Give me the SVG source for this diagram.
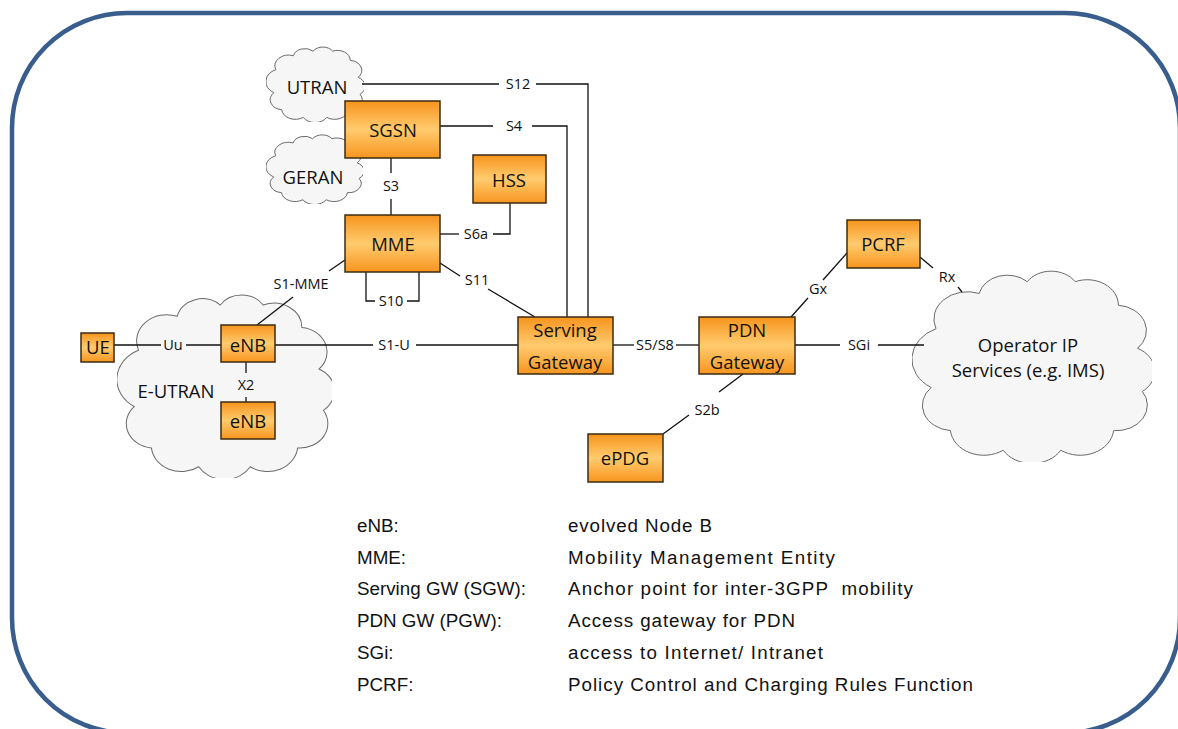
<svg xmlns="http://www.w3.org/2000/svg" xmlns:xlink="http://www.w3.org/1999/xlink" width="1178" height="729" viewBox="0 0 1178 729">
<style>
.box{fill:url(#og);stroke:#3d2b12;stroke-width:1.5}
.cl{fill:#f6f6f6;stroke:#6a6a6a;stroke-width:1}
.nt{font-family:"Open Sans","Noto Sans",sans-serif;font-size:18.5px;fill:#111;text-anchor:middle}
.lb{font-family:"Open Sans","Noto Sans",sans-serif;font-size:14.5px;fill:#111;text-anchor:middle}
.cn{fill:none;stroke:#111;stroke-width:1.3}
.lg{font-family:"Liberation Sans",Arial,sans-serif;font-size:18.8px;fill:#111}
</style>
<defs>
<linearGradient id="og" x1="0" y1="0" x2="0" y2="1">
<stop offset="0" stop-color="#f7941d"/>
<stop offset="0.5" stop-color="#ffcb6e"/>
<stop offset="1" stop-color="#f7951f"/>
</linearGradient>
<symbol id="cloud" viewBox="0 0 100 100" preserveAspectRatio="none">
<path class="cl" vector-effect="non-scaling-stroke" d="M8,62 A17,17 0 0 1 10,32 A14,14 0 0 1 28,14 A12,12 0 0 1 48,8 A12,12 0 0 1 68,8 A13,13 0 0 1 86,20 A13,13 0 0 1 94,42 A13,13 0 0 1 96,64 A13,13 0 0 1 84,84 A14,14 0 0 1 62,94 A14,14 0 0 1 38,94 A14,14 0 0 1 16,84 A13,13 0 0 1 8,62 Z"/>
</symbol>
</defs>
<rect x="0" y="0" width="1178" height="729" fill="#fff"/>
<rect id="frame" x="12" y="13" width="1168" height="720" rx="115" ry="115" fill="none" stroke="#395d8d" stroke-width="4.5"/>

<g id="utran"><use xlink:href="#cloud" href="#cloud" x="266" y="45" width="98" height="77"/><text class="nt" x="317" y="94">UTRAN</text></g>
<g id="geran"><use xlink:href="#cloud" href="#cloud" x="266" y="133" width="97" height="71"/><text class="nt" x="313" y="184">GERAN</text></g>
<g id="eutran"><use xlink:href="#cloud" href="#cloud" x="117" y="290" width="215" height="188"/><text class="nt" x="176" y="398">E-UTRAN</text></g>
<g id="operator"><use xlink:href="#cloud" href="#cloud" x="912" y="266" width="240" height="196"/><text class="nt" x="1028" y="352">Operator IP</text><text class="nt" x="1028" y="377">Services (e.g. IMS)</text></g>

<g id="connectors">
<polyline class="cn" points="362,84 499,84"/><polyline class="cn" points="536,84 588,84 588,317"/>
<text class="lb" x="518" y="89">S12</text>
<polyline class="cn" points="440,126 493,126"/><polyline class="cn" points="532,126 567,126 567,317"/>
<text class="lb" x="514" y="131">S4</text>
<polyline class="cn" points="391,158 391,173"/><polyline class="cn" points="391,199 391,215"/>
<text class="lb" x="391" y="191">S3</text>
<polyline class="cn" points="440,234 459,234"/><polyline class="cn" points="493,234 510,234 510,203"/>
<text class="lb" x="476" y="239">S6a</text>
<polyline class="cn" points="440,263 460,276"/><polyline class="cn" points="488,289 535,317"/>
<text class="lb" x="477" y="285">S11</text>
<polyline class="cn" points="366,272 366,301 375,301"/><polyline class="cn" points="407,301 419,301 419,272"/>
<text class="lb" x="391" y="306">S10</text>
<polyline class="cn" points="275,345 373,345"/><polyline class="cn" points="416,345 518,345"/>
<text class="lb" x="394" y="350">S1-U</text>
<polyline class="cn" points="613,345 634,345"/><polyline class="cn" points="676,345 699,345"/>
<text class="lb" x="655" y="350">S5/S8</text>
<polyline class="cn" points="795,345 840,345"/><polyline class="cn" points="878,345 924,345"/>
<text class="lb" x="859" y="350">SGi</text>
<polyline class="cn" points="791,317 808,298"/><polyline class="cn" points="823,280 847,253"/>
<text class="lb" x="818" y="294">Gx</text>
<polyline class="cn" points="920,257 933,268"/><polyline class="cn" points="958,287 962,292"/>
<text class="lb" x="947" y="282">Rx</text>
<polyline class="cn" points="743,374 719,392"/><polyline class="cn" points="689,415 663,434"/>
<text class="lb" x="707" y="415">S2b</text>
<polyline class="cn" points="114,345 161,345"/><polyline class="cn" points="186,345 221,345"/>
<text class="lb" x="173" y="350">Uu</text>
<polyline class="cn" points="246,362 246,373"/><polyline class="cn" points="246,397 246,402"/>
<text class="lb" x="246" y="390">X2</text>
<polyline class="cn" points="257,325 293,297"/><polyline class="cn" points="329,271 345,260"/>
<text class="lb" x="301" y="289">S1-MME</text>
</g>

<g id="sgsn"><rect class="box" x="345" y="101" width="95" height="57"/><text class="nt" x="393" y="137">SGSN</text></g>
<g id="hss"><rect class="box" x="473" y="155" width="73" height="48"/><text class="nt" x="509" y="187">HSS</text></g>
<g id="mme"><rect class="box" x="345" y="215" width="95" height="57"/><text class="nt" x="393" y="251">MME</text></g>
<g id="sgw"><rect class="box" x="518" y="317" width="95" height="57"/><text class="nt" x="565" y="337">Serving</text><text class="nt" x="565" y="369">Gateway</text></g>
<g id="pgw"><rect class="box" x="699" y="317" width="96" height="57"/><text class="nt" x="747" y="337">PDN</text><text class="nt" x="747" y="369">Gateway</text></g>
<g id="pcrf"><rect class="box" x="847" y="220" width="73" height="48"/><text class="nt" x="883" y="251">PCRF</text></g>
<g id="epdg"><rect class="box" x="588" y="434" width="75" height="48"/><text class="nt" x="625" y="465">ePDG</text></g>
<g id="ue"><rect class="box" x="81" y="333" width="33" height="29"/><text class="nt" x="98" y="354">UE</text></g>
<g id="enb1"><rect class="box" x="221" y="325" width="54" height="37"/><text class="nt" x="248" y="352">eNB</text></g>
<g id="enb2"><rect class="box" x="221" y="402" width="54" height="37"/><text class="nt" x="248" y="428">eNB</text></g>

<g id="legend">
<text class="lg" x="357" y="532">eNB:</text>
<text class="lg" x="568" y="532" textLength="144" lengthAdjust="spacing">evolved Node B</text>
<text class="lg" x="357" y="564">MME:</text>
<text class="lg" x="568" y="564" textLength="267" lengthAdjust="spacing">Mobility Management Entity</text>
<text class="lg" x="357" y="595">Serving GW (SGW):</text>
<text class="lg" x="568" y="595" textLength="345" lengthAdjust="spacing" xml:space="preserve">Anchor point for inter-3GPP  mobility</text>
<text class="lg" x="357" y="627">PDN GW (PGW):</text>
<text class="lg" x="568" y="627" textLength="227" lengthAdjust="spacing">Access gateway for PDN</text>
<text class="lg" x="357" y="659">SGi:</text>
<text class="lg" x="568" y="659" textLength="255" lengthAdjust="spacing">access to Internet/ Intranet</text>
<text class="lg" x="357" y="691">PCRF:</text>
<text class="lg" x="568" y="691" textLength="405" lengthAdjust="spacing">Policy Control and Charging Rules Function</text>
</g>
</svg>
